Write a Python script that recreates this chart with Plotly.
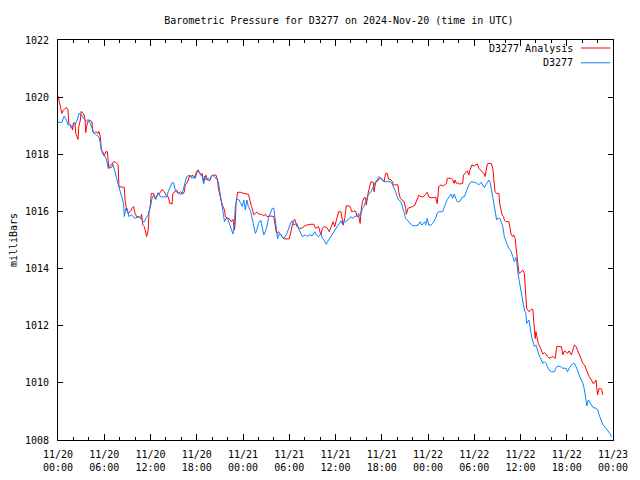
import pandas as pd
import plotly.graph_objects as go

start = "2024-11-20 00:00"
title = "Barometric Pressure for D3277 on 2024-Nov-20 (time in UTC)"
series_names = ["D3277 Analysis", "D3277"]

# hours since 2024-11-20 00:00 UTC, pressure in mbar
red_hours = [0.0, 0.5, 0.7, 1.1, 1.3, 1.4, 1.8, 1.9, 2.0, 2.2, 2.3, 2.5, 2.6, 2.7, 2.9, 3.0, 3.3, 3.5, 3.6, 3.7,
             3.9, 4.1, 4.4, 4.5, 4.7, 4.9, 5.2, 5.3, 5.5, 5.6, 5.8, 6.0, 6.2, 6.4, 6.5, 6.6, 7.0, 7.1, 7.4, 7.6,
             7.8, 7.9, 8.3, 8.6, 8.7, 8.9, 9.1, 9.4, 9.6, 9.8, 10.0, 10.2, 10.5, 10.7, 10.85, 11.0, 11.2, 11.4, 11.5, 11.7,
             11.8, 12.0, 12.1, 12.4, 12.6, 12.9, 13.3, 13.5, 13.8, 14.0, 14.3, 14.5, 14.8, 14.9, 15.2, 15.4, 15.6, 15.9, 16.2, 16.4,
             16.5, 16.7, 16.9, 17.1, 17.2, 17.5, 17.7, 17.8, 18.0, 18.2, 18.5, 18.7, 18.9, 19.0, 19.2, 19.4, 19.7, 19.9, 20.1, 20.5,
             20.7, 20.8, 21.0, 21.2, 21.4, 21.6, 21.7, 22.0, 22.3, 22.5, 22.7, 22.9, 23.0, 23.1, 23.3, 23.7, 24.1, 24.7, 24.8, 25.1,
             25.3, 25.4, 25.6, 25.8, 26.1, 26.4, 26.7, 26.9, 27.1, 27.6, 28.0, 28.2, 28.3, 28.45, 28.6, 28.9, 29.1, 29.3, 30.0, 30.2,
             30.4, 30.5, 30.7, 30.9, 31.0, 31.3, 31.6, 31.9, 32.2, 32.8, 33.2, 33.4, 33.8, 34.1, 34.3, 34.5, 34.9, 35.2, 35.5, 35.7,
             35.9, 36.1, 36.4, 36.7, 36.9, 37.0, 37.2, 37.4, 37.6, 37.9, 38.1, 38.3, 38.6, 38.8, 39.0, 39.2, 39.3, 39.5, 39.7, 39.9,
             40.0, 40.2, 40.5, 40.6, 40.9, 41.0, 41.2, 41.4, 41.6, 41.9, 42.1, 42.3, 42.5, 42.7, 42.9, 43.1, 43.4, 43.5, 44.1, 44.2,
             44.4, 44.7, 44.9, 45.1, 45.2, 45.4, 45.7, 46.0, 46.3, 46.5, 46.8, 47.1, 47.4, 47.7, 47.9, 48.1, 48.4, 48.7, 49.0, 49.2,
             49.4, 49.7, 50.0, 50.4, 50.5, 51.0, 51.2, 51.4, 51.5, 51.7, 51.9, 52.1, 52.5, 52.6, 52.8, 53.1, 53.3, 53.4, 53.7, 54.0,
             54.2, 54.4, 54.6, 54.9, 55.1, 55.3, 55.4, 55.6, 55.7, 55.9, 56.2, 56.4, 56.5, 56.6, 56.7, 56.9, 57.2, 57.3, 57.5, 57.6,
             57.8, 57.9, 58.1, 58.5, 58.6, 58.8, 59.0, 59.1, 59.3, 59.4, 59.5, 59.6, 59.8, 60.1, 60.3, 60.5, 60.6, 60.7, 60.8, 61.1,
             61.4, 61.6, 61.7, 61.8, 61.9, 62.0, 62.1, 62.3, 62.6, 62.9, 63.1, 63.3, 63.5, 63.7, 64.0, 64.2, 64.5, 64.7, 65.3, 65.5,
             65.7, 65.9, 66.1, 66.3, 66.6, 66.8, 67.0, 67.2, 67.4, 67.6, 67.9, 68.1, 68.3, 68.5, 68.7, 68.9, 69.2, 69.4, 69.6, 69.8,
             69.9, 70.0, 70.2, 70.5, 70.7]
red_mbar = [1020.04, 1019.43, 1019.55, 1019.64, 1019.55, 1019.08, 1018.97, 1018.85, 1019.1, 1019.1, 1018.73, 1018.56, 1018.52, 1018.97, 1019.2, 1019.5, 1019.43, 1019.26, 1018.76, 1018.97,
            1019.14, 1019.2, 1019.14, 1018.79, 1018.73, 1018.79, 1018.73, 1018.8, 1018.62, 1018.15, 1018.09, 1017.94, 1018.09, 1018.09, 1017.86, 1017.51, 1017.56, 1017.71, 1017.74, 1017.68,
            1017.63, 1016.87, 1016.84, 1016.84, 1016.4, 1016.05, 1015.93, 1016.0, 1016.11, 1016.17, 1015.93, 1015.82, 1015.82, 1015.76, 1015.9, 1015.52, 1015.47, 1015.18, 1015.12, 1015.35,
            1015.93, 1016.28, 1016.63, 1016.63, 1016.46, 1016.57, 1016.67, 1016.77, 1016.69, 1016.57, 1016.51, 1016.28, 1016.26, 1016.63, 1016.69, 1016.75, 1016.63, 1016.69, 1016.61, 1016.69,
            1016.93, 1016.98, 1017.1, 1017.27, 1017.22, 1017.27, 1017.16, 1017.27, 1017.41, 1017.45, 1017.27, 1017.33, 1017.01, 1017.16, 1017.27, 1017.1, 1017.08, 1017.24, 1017.27, 1017.27,
            1017.12, 1016.81, 1016.51, 1016.34, 1016.17, 1016.05, 1015.82, 1015.76, 1015.72, 1015.64, 1015.72, 1015.35, 1015.64, 1016.28, 1016.67, 1016.67, 1016.63, 1016.6, 1016.46, 1016.17,
            1015.99, 1015.88, 1015.93, 1015.97, 1015.9, 1015.9, 1015.85, 1015.9, 1015.82, 1015.84, 1015.82, 1015.52, 1015.29, 1015.23, 1015.29, 1015.18, 1015.12, 1015.04, 1015.04, 1015.29,
            1015.47, 1015.64, 1015.73, 1015.58, 1015.47, 1015.41, 1015.41, 1015.47, 1015.52, 1015.55, 1015.55, 1015.41, 1015.47, 1015.18, 1015.41, 1015.47, 1015.43, 1015.29, 1015.52, 1015.64,
            1015.47, 1015.7, 1015.99, 1015.99, 1015.7, 1015.52, 1015.75, 1016.2, 1016.2, 1016.17, 1015.99, 1016.01, 1016.01, 1015.82, 1015.85, 1015.58, 1015.99, 1016.34, 1016.48, 1016.48,
            1016.22, 1016.6, 1016.95, 1017.04, 1017.02, 1016.69, 1017.02, 1017.04, 1017.13, 1017.16, 1017.1, 1017.04, 1017.33, 1017.33, 1017.13, 1017.13, 1017.04, 1016.93, 1016.93, 1016.69,
            1016.46, 1016.4, 1016.34, 1016.11, 1015.9, 1016.11, 1016.13, 1016.17, 1016.22, 1016.34, 1016.57, 1016.51, 1016.51, 1016.6, 1016.67, 1016.51, 1016.48, 1016.48, 1016.5, 1016.27,
            1016.87, 1016.93, 1016.89, 1016.98, 1017.16, 1017.16, 1017.1, 1016.98, 1017.1, 1016.98, 1017.0, 1016.96, 1016.98, 1017.27, 1017.33, 1017.42, 1017.27, 1017.42, 1017.63, 1017.59,
            1017.63, 1017.66, 1017.51, 1017.42, 1017.39, 1017.31, 1017.22, 1017.45, 1017.66, 1017.68, 1017.68, 1017.51, 1017.22, 1017.04, 1016.69, 1016.63, 1016.63, 1016.28, 1016.05, 1015.88,
            1015.82, 1015.7, 1015.64, 1015.64, 1015.47, 1015.18, 1015.12, 1015.18, 1015.06, 1014.77, 1014.48, 1014.18, 1013.83, 1013.89, 1013.95, 1013.83, 1013.48, 1013.02, 1012.61, 1012.49,
            1012.57, 1012.57, 1012.2, 1011.73, 1011.55, 1011.79, 1011.62, 1011.38, 1011.21, 1011.01, 1011.06, 1011.01, 1010.92, 1010.86, 1010.89, 1010.92, 1010.86, 1011.27, 1011.27, 1010.98,
            1011.12, 1011.09, 1011.03, 1011.12, 1010.98, 1011.15, 1011.33, 1011.27, 1011.15, 1011.03, 1010.86, 1010.68, 1010.63, 1010.51, 1010.33, 1010.22, 1010.1, 1009.98, 1010.0, 1010.1,
            1009.81, 1009.58, 1009.81, 1009.78, 1009.58]

blue_hours = [0.0, 0.5, 0.8, 1.1, 1.3, 1.6, 1.7, 2.0, 2.3, 2.5, 2.7, 3.1, 3.4, 3.7, 3.9, 4.2, 4.5, 4.7, 5.0, 5.3,
              5.5, 5.7, 5.9, 6.1, 6.3, 6.5, 6.7, 6.9, 7.1, 7.2, 7.4, 7.6, 7.8, 8.1, 8.3, 8.5, 8.6, 8.8, 9.0, 9.2,
              9.5, 9.7, 10.0, 10.4, 10.8, 11.0, 11.2, 11.4, 11.7, 11.8, 12.0, 12.2, 12.4, 12.7, 13.0, 13.3, 13.9, 14.1, 14.3, 14.6,
              14.8, 15.0, 15.2, 15.4, 15.8, 16.1, 16.3, 16.5, 16.7, 17.1, 17.4, 17.6, 17.8, 18.0, 18.2, 18.5, 18.7, 18.9, 19.0, 19.2,
              19.5, 19.7, 20.0, 20.3, 20.5, 20.8, 21.0, 21.2, 21.4, 21.6, 21.8, 22.0, 22.3, 22.5, 22.7, 22.9, 23.0, 23.2, 23.5, 23.7,
              23.9, 24.1, 24.3, 24.5, 24.7, 25.0, 25.2, 25.4, 25.6, 25.8, 26.0, 26.3, 26.5, 26.7, 26.9, 27.1, 27.3, 27.6, 27.8, 28.0,
              28.1, 28.3, 28.5, 28.6, 28.9, 29.1, 29.3, 29.7, 29.9, 30.2, 30.4, 30.6, 30.8, 31.0, 31.2, 31.5, 31.7, 31.9, 32.1, 32.3,
              32.6, 33.0, 33.3, 33.5, 33.8, 34.1, 34.3, 34.5, 34.8, 35.1, 35.4, 35.7, 35.9, 36.2, 36.4, 36.7, 36.9, 37.1, 37.3, 37.6,
              38.0, 38.2, 38.5, 38.8, 39.0, 39.2, 39.5, 39.7, 39.9, 40.1, 40.3, 40.6, 40.8, 41.0, 41.2, 41.4, 41.6, 41.9, 42.1, 42.3,
              43.2, 43.5, 43.8, 44.0, 44.2, 44.5, 44.7, 44.9, 45.1, 45.3, 45.5, 45.8, 46.0, 46.4, 46.7, 47.0, 47.2, 47.4, 47.55, 47.7,
              47.9, 48.1, 48.4, 48.6, 48.8, 49.0, 49.2, 49.4, 49.9, 50.1, 50.3, 50.5, 50.7, 51.0, 51.2, 51.4, 51.6, 51.8, 52.1, 52.3,
              52.5, 52.7, 52.9, 53.1, 53.3, 53.6, 53.8, 54.0, 54.2, 54.4, 54.6, 54.9, 55.1, 55.3, 55.5, 55.7, 55.9, 56.1, 56.2, 56.4,
              56.5, 56.6, 56.7, 56.9, 57.0, 57.3, 57.5, 57.7, 57.9, 58.1, 58.3, 58.5, 58.8, 59.0, 59.2, 59.4, 59.5, 59.7, 59.9, 60.1,
              60.2, 60.4, 60.5, 60.7, 60.8, 61.1, 61.2, 61.4, 61.6, 61.8, 62.0, 62.2, 62.4, 62.7, 62.9, 63.1, 63.3, 63.5, 63.7, 64.0,
              64.4, 64.6, 64.8, 65.2, 65.5, 65.9, 66.1, 66.3, 66.6, 66.8, 67.0, 67.2, 67.4, 67.6, 67.9, 68.1, 68.3, 68.4, 68.5, 68.6,
              68.8, 69.1, 69.4, 69.8, 70.0, 70.2, 70.5, 70.7, 71.0, 71.3, 71.6, 71.8]
blue_mbar = [1019.12, 1019.12, 1019.34, 1019.2, 1019.03, 1019.03, 1018.91, 1019.03, 1019.08, 1019.2, 1019.43, 1019.37, 1019.22, 1019.14, 1019.22, 1019.08, 1018.85, 1018.73, 1018.67, 1018.62,
             1018.38, 1018.09, 1017.97, 1017.92, 1017.8, 1017.51, 1017.59, 1017.66, 1017.66, 1017.59, 1017.39, 1017.16, 1016.98, 1016.69, 1016.51, 1016.28, 1015.82, 1016.11, 1016.1, 1015.82,
             1015.88, 1015.82, 1015.76, 1015.8, 1015.76, 1015.64, 1015.64, 1015.76, 1015.88, 1016.0, 1016.17, 1016.46, 1016.57, 1016.42, 1016.66, 1016.51, 1016.51, 1016.51, 1016.69, 1016.86,
             1017.01, 1017.0, 1016.75, 1016.67, 1016.61, 1016.61, 1016.81, 1017.1, 1017.22, 1017.27, 1017.16, 1017.24, 1017.16, 1017.33, 1017.42, 1017.33, 1017.22, 1016.96, 1017.24, 1017.1,
             1017.16, 1017.12, 1017.27, 1017.22, 1017.16, 1017.04, 1016.69, 1016.34, 1015.99, 1015.64, 1015.76, 1015.76, 1015.52, 1015.35, 1015.21, 1015.64, 1016.17, 1016.42, 1016.4, 1016.28,
             1016.17, 1016.4, 1016.05, 1016.4, 1016.17, 1015.99, 1015.7, 1015.41, 1015.23, 1015.35, 1015.58, 1015.7, 1015.47, 1015.18, 1015.29, 1015.47, 1015.76, 1015.99, 1016.11, 1016.11,
             1015.93, 1015.52, 1015.04, 1015.18, 1015.2, 1015.12, 1015.04, 1015.23, 1015.41, 1015.62, 1015.67, 1015.52, 1015.55, 1015.58, 1015.41, 1015.23, 1015.12, 1015.15, 1015.18, 1015.12,
             1015.18, 1015.15, 1015.29, 1015.18, 1015.12, 1015.23, 1015.06, 1015.0, 1014.85, 1015.0, 1015.12, 1015.23, 1015.35, 1015.47, 1015.52, 1015.67, 1015.55, 1015.68, 1015.64, 1015.7,
             1015.82, 1015.76, 1015.82, 1015.85, 1015.93, 1015.82, 1016.11, 1016.17, 1016.34, 1016.48, 1016.6, 1016.69, 1016.81, 1016.93, 1017.04, 1017.1, 1017.22, 1017.16, 1017.1, 1017.04,
             1017.04, 1016.87, 1016.69, 1016.51, 1016.4, 1016.34, 1016.11, 1015.88, 1015.76, 1015.7, 1015.64, 1015.58, 1015.5, 1015.5, 1015.52, 1015.64, 1015.52, 1015.58, 1015.64, 1015.52,
             1015.76, 1015.52, 1015.52, 1015.58, 1015.7, 1015.76, 1015.95, 1015.99, 1015.99, 1016.11, 1016.28, 1016.42, 1016.51, 1016.61, 1016.46, 1016.61, 1016.46, 1016.34, 1016.34, 1016.42,
             1016.51, 1016.51, 1016.63, 1016.75, 1016.93, 1017.04, 1017.02, 1017.02, 1017.01, 1016.98, 1016.93, 1017.02, 1016.93, 1016.84, 1016.93, 1017.02, 1017.1, 1016.98, 1016.81, 1016.63,
             1016.4, 1016.28, 1015.99, 1015.7, 1015.76, 1015.76, 1015.64, 1015.47, 1015.12, 1014.94, 1014.82, 1014.71, 1014.59, 1014.42, 1014.24, 1014.39, 1014.24, 1013.78, 1013.48, 1013.25,
             1013.02, 1012.67, 1012.55, 1012.43, 1012.08, 1012.2, 1011.97, 1011.68, 1011.45, 1011.27, 1011.33, 1011.15, 1010.98, 1010.8, 1010.68, 1010.74, 1010.68, 1010.57, 1010.45, 1010.39,
             1010.39, 1010.51, 1010.59, 1010.57, 1010.51, 1010.51, 1010.39, 1010.51, 1010.59, 1010.68, 1010.68, 1010.59, 1010.45, 1010.27, 1010.1, 1009.98, 1009.75, 1009.52, 1009.4, 1009.19,
             1009.4, 1009.28, 1009.14, 1009.11, 1009.07, 1008.88, 1008.64, 1008.53, 1008.44, 1008.35, 1008.23, 1008.12]

y_range = [1008, 1022]
x_range = ["2024-11-20 00:00", "2024-11-23 00:00"]
colors = ["#ff0000", "#0a84ff"]

t0 = pd.Timestamp(start)
red_t = t0 + pd.to_timedelta(red_hours, unit="h")
blue_t = t0 + pd.to_timedelta(blue_hours, unit="h")

FONT = "DejaVu Sans Mono"

fig = go.Figure()
fig.add_trace(go.Scatter(x=red_t, y=red_mbar, mode="lines", name=series_names[0],
                         line=dict(color=colors[0], width=1)))
fig.add_trace(go.Scatter(x=blue_t, y=blue_mbar, mode="lines", name=series_names[1],
                         line=dict(color=colors[1], width=1)))

axis_common = dict(showgrid=False, zeroline=False, showline=True, linecolor="black", linewidth=1,
                   mirror="ticks", ticks="inside", tickcolor="black", tickwidth=1, automargin=False,
                   tickfont=dict(family=FONT, size=10, color="black"))

fig.update_xaxes(range=x_range, type="date", dtick=6 * 3600 * 1000, tick0=start,
                 tickformat="%m/%d<br>%H:%M", ticklen=6, ticklabelstandoff=5,
                 minor=dict(dtick=2 * 3600 * 1000, tick0=start, ticks="inside", ticklen=3,
                            tickcolor="black", tickwidth=1, showgrid=False),
                 **axis_common)
fig.update_yaxes(range=y_range, dtick=2, ticklen=5, ticklabelstandoff=6,
                 title=dict(text="milliBars", font=dict(family=FONT, size=10, color="black"), standoff=10),
                 **axis_common)

# legend drawn gnuplot-style: right-aligned text, sample line to the right
leg_y = [0.98, 0.943]
for name, col, yy in zip(series_names, colors, leg_y):
    fig.add_annotation(x=0.932, y=yy, xref="paper", yref="paper", text=name, showarrow=False,
                       xanchor="right", yanchor="middle", font=dict(family=FONT, size=10, color="black"))
    fig.add_shape(type="line", xref="paper", yref="paper", x0=0.942, x1=0.995, y0=yy, y1=yy,
                  line=dict(color=col, width=1))

# the page body adds an 8px offset, so margins are reduced on the top/left accordingly
fig.update_layout(
    width=640, height=480,
    margin=dict(l=50, r=35, t=32, b=48, autoexpand=False),
    paper_bgcolor="white", plot_bgcolor="white",
    showlegend=False,
    title=dict(text=title, x=0.517, xanchor="center", y=1 - 12 / 480, yanchor="middle",
               font=dict(family=FONT, size=10, color="black")),
)

fig.write_html("out.html")
